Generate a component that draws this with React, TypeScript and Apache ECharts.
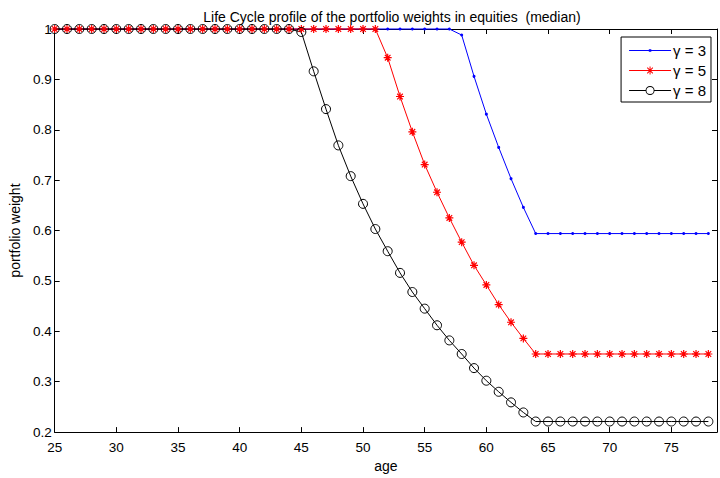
import React, { useEffect, useRef } from "react";
import * as echarts from "echarts";

const titleText = "Life Cycle profile of the portfolio weights in equities  (median)";
const xAxisName = "age";
const yAxisName = "portfolio weight";
const seriesNames = ["γ = 3", "γ = 5", "γ = 8"];

const ages = [
  25, 26, 27, 28, 29, 30, 31, 32, 33, 34, 35, 36, 37, 38, 39, 40, 41, 42, 43, 44,
  45, 46, 47, 48, 49, 50, 51, 52, 53, 54, 55, 56, 57, 58, 59, 60, 61, 62, 63, 64,
  65, 66, 67, 68, 69, 70, 71, 72, 73, 74, 75, 76, 77, 78,
];

// gamma = 3
const gamma3 = [
  1, 1, 1, 1, 1, 1, 1, 1, 1, 1, 1, 1, 1, 1, 1, 1, 1, 1, 1, 1,
  1, 1, 1, 1, 1, 1, 1, 1, 1, 1, 1, 1, 1, 0.988, 0.906, 0.831, 0.765, 0.703, 0.646, 0.594,
  0.594, 0.594, 0.594, 0.594, 0.594, 0.594, 0.594, 0.594, 0.594, 0.594, 0.594, 0.594, 0.594, 0.594,
];

// gamma = 5
const gamma5 = [
  1, 1, 1, 1, 1, 1, 1, 1, 1, 1, 1, 1, 1, 1, 1, 1, 1, 1, 1, 1,
  1, 1, 1, 1, 1, 1, 1, 0.943, 0.866, 0.796, 0.731, 0.676, 0.625, 0.577, 0.531, 0.492, 0.453, 0.418, 0.386, 0.355,
  0.355, 0.355, 0.355, 0.355, 0.355, 0.355, 0.355, 0.355, 0.355, 0.355, 0.355, 0.355, 0.355, 0.355,
];

// gamma = 8
const gamma8 = [
  1, 1, 1, 1, 1, 1, 1, 1, 1, 1, 1, 1, 1, 1, 1, 1, 1, 1, 1, 1,
  0.994, 0.916, 0.841, 0.769, 0.708, 0.653, 0.603, 0.559, 0.516, 0.478, 0.445, 0.412, 0.382, 0.355, 0.327, 0.302, 0.28, 0.259, 0.239, 0.221,
  0.221, 0.221, 0.221, 0.221, 0.221, 0.221, 0.221, 0.221, 0.221, 0.221, 0.221, 0.221, 0.221, 0.221,
];

const xMin = 25;
const xMax = 78.7;
const xInterval = 5;
const yMin = 0.2;
const yMax = 1;
const yInterval = 0.1;

const FONT = "'Liberation Sans', Arial, Helvetica, sans-serif";
const ASTERISK = "path://M5,0L5,10M0,5L10,5M1.5,1.5L8.5,8.5M1.5,8.5L8.5,1.5";

// legend icons (line + marker), drawn as filled shapes
const ICON_DOT =
  "path://M0,6.5L42,6.5L42,7.5L0,7.5Z M19.75,5.75L22.25,5.75L22.25,8.25L19.75,8.25Z";
const ICON_STAR =
  "path://M0,6.5L42,6.5L42,7.5L0,7.5Z M20.5,3L21.5,3L21.5,11L20.5,11Z " +
  "M18.55,3.85L24.15,9.45L23.45,10.15L17.85,4.55Z M17.85,9.45L23.45,3.85L24.15,4.55L18.55,10.15Z";
const ICON_CIRCLE =
  "path://M0,6.5L16.6,6.5L16.6,7.5L0,7.5Z M25.4,6.5L42,6.5L42,7.5L25.4,7.5Z " +
  "M25.5,7A4.5,4.5 0 1 1 16.5,7A4.5,4.5 0 1 1 25.5,7Z M24.6,7A3.6,3.6 0 1 0 17.4,7A3.6,3.6 0 1 0 24.6,7Z";

export default function App() {
  const ref = useRef<HTMLDivElement>(null);

  useEffect(() => {
    if (!ref.current) return;
    const chart = echarts.init(ref.current, null, { renderer: "svg" });
    const pair = (arr: number[]) => ages.map((a, i) => [a, arr[i]]);

    const axisCommon = {
      axisLine: { show: true, onZero: false, lineStyle: { color: "#000", width: 1 } },
      axisTick: { show: true, inside: true, length: 5, lineStyle: { color: "#000", width: 1 } },
      splitLine: { show: false },
    };

    chart.setOption({
      animation: false,
      backgroundColor: "#fff",
      textStyle: { fontFamily: FONT },
      title: {
        text: titleText,
        left: 387,
        textAlign: "center",
        top: 5,
        textStyle: { fontFamily: FONT, fontSize: 14, fontWeight: "normal", color: "#000" },
      },
      grid: { left: 54, right: -1, top: 29, bottom: 41, containLabel: false },
      legend: {
        orient: "vertical",
        right: 9,
        top: 37,
        data: [
          { name: seriesNames[0], icon: ICON_DOT, itemStyle: { color: "#0000ff", borderWidth: 0 } },
          { name: seriesNames[1], icon: ICON_STAR, itemStyle: { color: "#ff0000", borderWidth: 0 } },
          { name: seriesNames[2], icon: ICON_CIRCLE, itemStyle: { color: "#000", borderWidth: 0 } },
        ],
        itemWidth: 42,
        itemHeight: 14,
        itemGap: 5,
        padding: [6, 5, 4, 8],
        borderColor: "#000",
        borderWidth: 1,
        borderRadius: 0,
        backgroundColor: "#fff",
        textStyle: { fontFamily: FONT, fontSize: 15, color: "#000", padding: [0, 0, 0, -3] },
      },
      xAxis: [
        {
          type: "value",
          min: xMin,
          max: xMax,
          interval: xInterval,
          position: "bottom",
          name: xAxisName,
          nameLocation: "middle",
          nameGap: 24,
          nameTextStyle: { fontFamily: FONT, fontSize: 14, color: "#000" },
          ...axisCommon,
          axisLabel: {
            fontFamily: FONT,
            fontSize: 13.5,
            color: "#000",
            margin: 8,
            formatter: (v: number) => (v % 5 === 0 ? String(v) : ""),
          },
        },
        {
          type: "value",
          min: xMin,
          max: xMax,
          interval: xInterval,
          position: "top",
          ...axisCommon,
          axisLabel: { show: false },
        },
      ],
      yAxis: [
        {
          type: "value",
          min: yMin,
          max: yMax,
          interval: yInterval,
          position: "left",
          name: yAxisName,
          nameLocation: "middle",
          nameGap: 29,
          nameTextStyle: { fontFamily: FONT, fontSize: 14, color: "#000" },
          ...axisCommon,
          axisLabel: { fontFamily: FONT, fontSize: 13.5, color: "#000", margin: 3 },
        },
        {
          type: "value",
          min: yMin,
          max: yMax,
          interval: yInterval,
          position: "right",
          ...axisCommon,
          axisLabel: { show: false },
        },
      ],
      series: [
        {
          name: seriesNames[0],
          type: "line",
          data: pair(gamma3),
          symbol: "circle",
          symbolSize: 3,
          showSymbol: true,
          lineStyle: { color: "#0000ff", width: 1 },
          itemStyle: { color: "#0000ff" },
          clip: false,
        },
        {
          name: seriesNames[1],
          type: "line",
          data: pair(gamma5),
          symbol: ASTERISK,
          symbolSize: 8,
          showSymbol: true,
          lineStyle: { color: "#ff0000", width: 1 },
          itemStyle: { color: "#ff0000", borderColor: "#ff0000", borderWidth: 1.2 },
          clip: false,
        },
        {
          name: seriesNames[2],
          type: "line",
          data: pair(gamma8),
          symbol: "circle",
          symbolSize: 9,
          showSymbol: true,
          lineStyle: { color: "#000", width: 1 },
          itemStyle: { color: "rgba(0,0,0,0)", borderColor: "#000", borderWidth: 1 },
          clip: false,
        },
      ],
    });

    return () => chart.dispose();
  }, []);

  return <div ref={ref} style={{ width: 720, height: 478, position: "absolute", left: 0, top: 0 }} />;
}
